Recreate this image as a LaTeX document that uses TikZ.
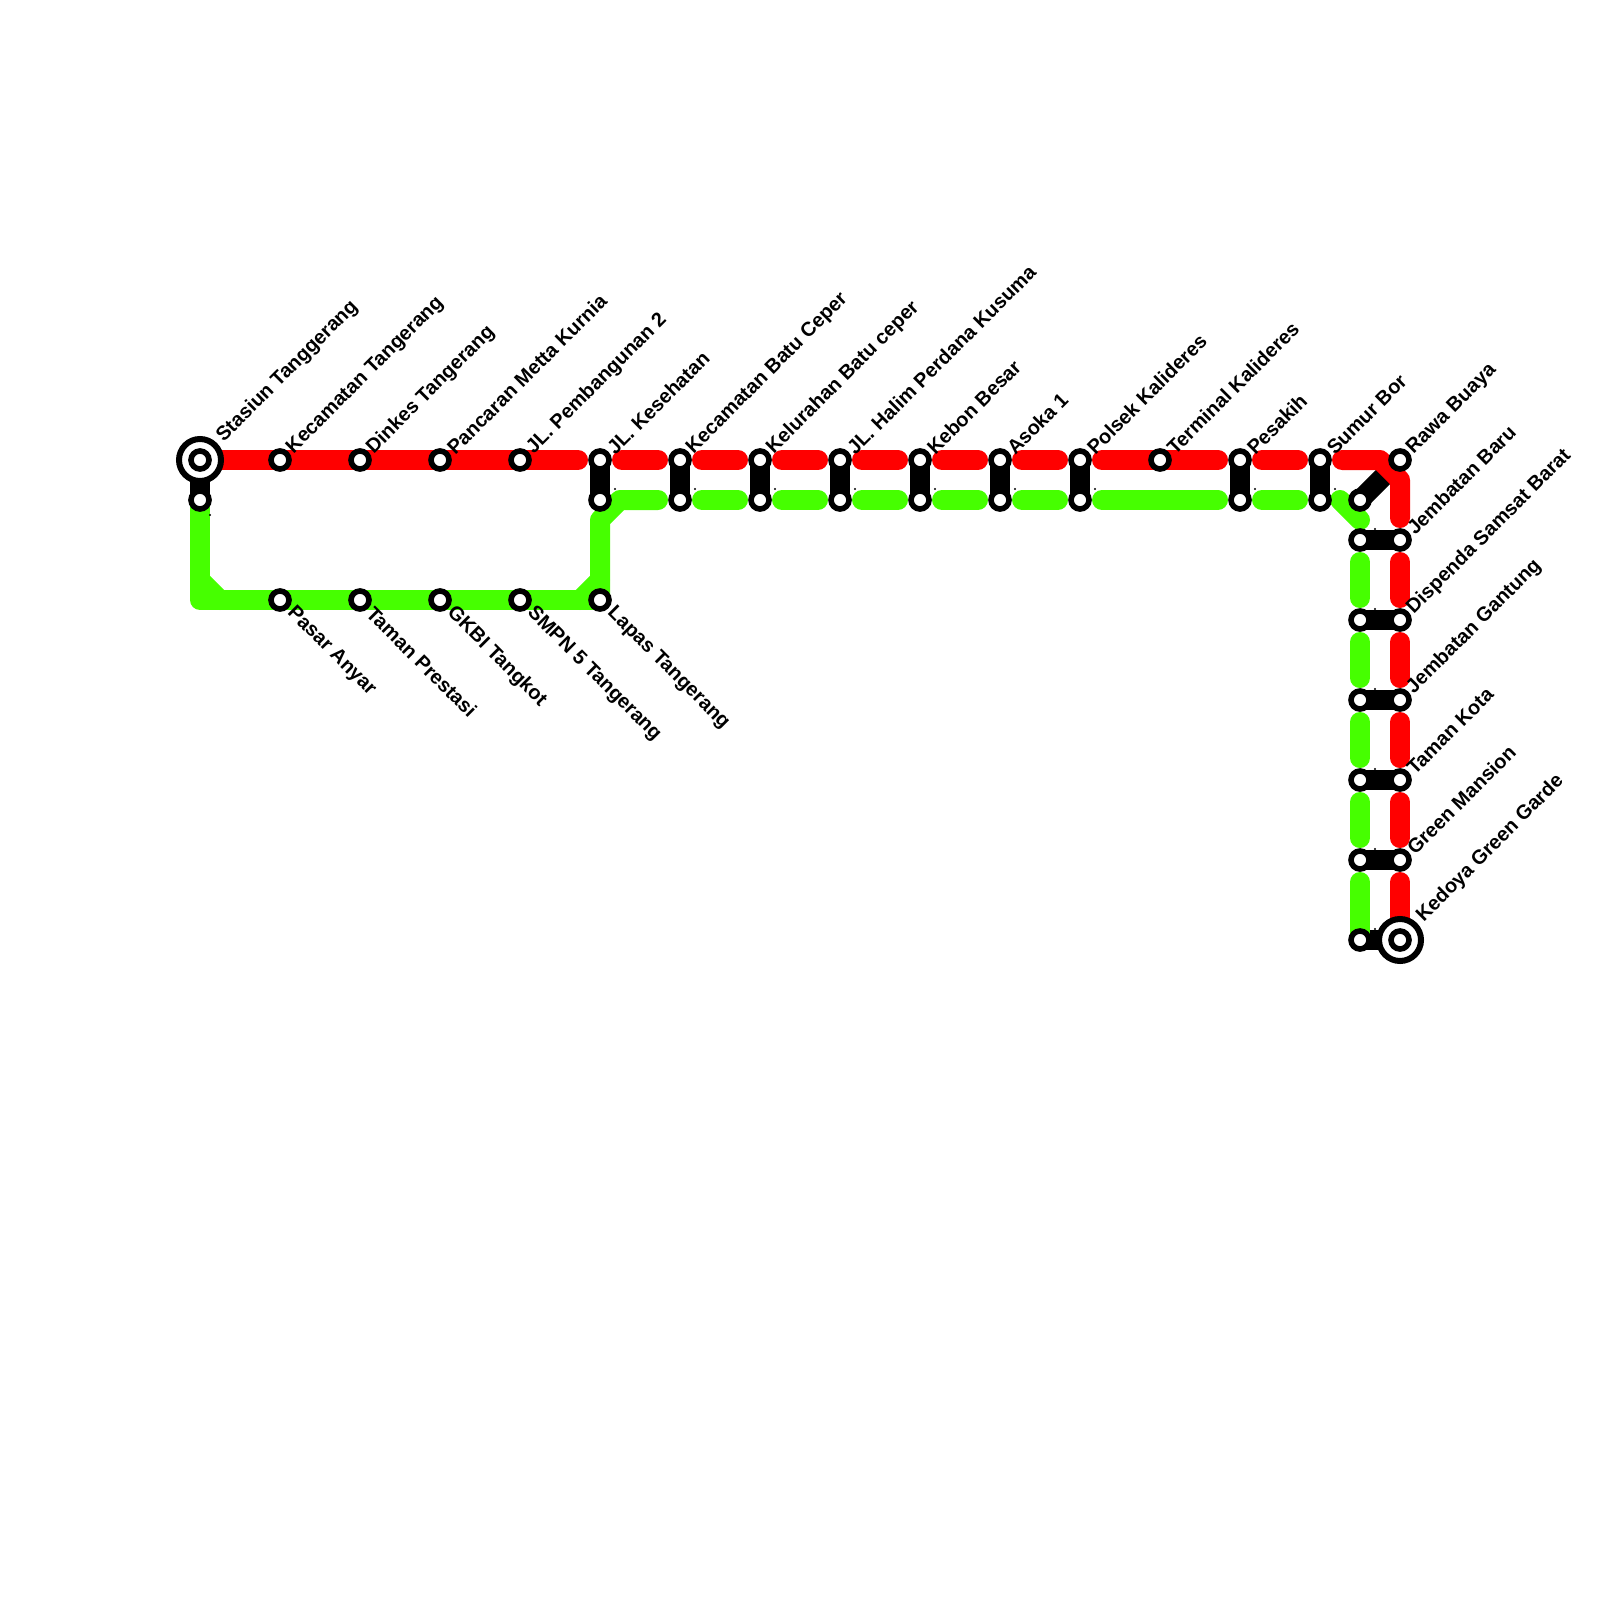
\documentclass[tikz,border=0pt]{standalone}
\usepackage{fontspec}
\setmainfont{Liberation Sans}
\usetikzlibrary{backgrounds}
\definecolor{LineRed}{RGB}{255,0,0}
\definecolor{LineGreen}{RGB}{70,255,0}
\tikzset{
  station/.style={circle,draw=black,fill=white,line width=1.4mm,minimum size=4.5mm,inner sep=0pt,outer sep=0pt},
  terminus/.style={circle,draw=black,fill=white,line width=1.5mm,minimum size=10.5mm,inner sep=0pt,outer sep=0pt},
  redline/.style={draw=LineRed,line width=5mm,line cap=round,line join=round},
  greenline/.style={draw=LineGreen,line width=5mm,line cap=round,line join=round},
  link/.style={draw=black,line width=5mm},
  gapstart/.style={shorten <=5.5mm},
  gapend/.style={shorten >=5.5mm},
  gapboth/.style={gapstart,gapend},
  uplabel/.style={rotate=45,anchor=west,inner sep=0pt,font=\fontsize{14.2}{16}\selectfont\bfseries},
  downlabel/.style={rotate=-45,anchor=west,inner sep=0pt,font=\fontsize{14.2}{16}\selectfont\bfseries},
  speck/.style={circle,fill=black,inner sep=0pt,minimum size=0.6mm}
}

\begin{document}
\begin{tikzpicture}[x=0.25mm,y=-0.25mm]
\useasboundingbox (0,0) rectangle (1600,1600);

% upper stops
\node[terminus] (startring) at (200,460) {};
\node[station] (r1) at (200,460) {};
\node[station] (r2) at (280,460) {};
\node[station] (r3) at (360,460) {};
\node[station] (r4) at (440,460) {};
\node[station] (r5) at (520,460) {};
\node[station] (r6) at (600,460) {};
\node[station] (r7) at (680,460) {};
\node[station] (r8) at (760,460) {};
\node[station] (r9) at (840,460) {};
\node[station] (r10) at (920,460) {};
\node[station] (r11) at (1000,460) {};
\node[station] (r12) at (1080,460) {};
\node[station] (r13) at (1160,460) {};
\node[station] (r14) at (1240,460) {};
\node[station] (r15) at (1320,460) {};
\node[station] (r16) at (1400,460) {};

% lower stops
\node[station] (g1) at (200,500) {};
\node[station] (g6) at (600,500) {};
\node[station] (g7) at (680,500) {};
\node[station] (g8) at (760,500) {};
\node[station] (g9) at (840,500) {};
\node[station] (g10) at (920,500) {};
\node[station] (g11) at (1000,500) {};
\node[station] (g12) at (1080,500) {};
\node[station] (g14) at (1240,500) {};
\node[station] (g15) at (1320,500) {};
\node[station] (g16) at (1360,500) {};

% bottom row
\node[station] (b2) at (280,600) {};
\node[station] (b3) at (360,600) {};
\node[station] (b4) at (440,600) {};
\node[station] (b5) at (520,600) {};
\node[station] (b6) at (600,600) {};

% right column
\node[station] (gc1) at (1360,540) {};
\node[station] (gc2) at (1360,620) {};
\node[station] (gc3) at (1360,700) {};
\node[station] (gc4) at (1360,780) {};
\node[station] (gc5) at (1360,860) {};
\node[station] (gc6) at (1360,940) {};
\node[station] (rc1) at (1400,540) {};
\node[station] (rc2) at (1400,620) {};
\node[station] (rc3) at (1400,700) {};
\node[station] (rc4) at (1400,780) {};
\node[station] (rc5) at (1400,860) {};
\node[terminus] (endring) at (1400,940) {};
\node[station] (rc6) at (1400,940) {};

\begin{scope}[on background layer]
\draw[link] (r1.center) -- (g1.center);
\draw[link] (r6.center) -- (g6.center);
\draw[link] (r7.center) -- (g7.center);
\draw[link] (r8.center) -- (g8.center);
\draw[link] (r9.center) -- (g9.center);
\draw[link] (r10.center) -- (g10.center);
\draw[link] (r11.center) -- (g11.center);
\draw[link] (r12.center) -- (g12.center);
\draw[link] (r14.center) -- (g14.center);
\draw[link] (r15.center) -- (g15.center);
\draw[link] (g16.center) -- (r16.center);
\draw[link] (gc1.center) -- (rc1.center);
\draw[link] (gc2.center) -- (rc2.center);
\draw[link] (gc3.center) -- (rc3.center);
\draw[link] (gc4.center) -- (rc4.center);
\draw[link] (gc5.center) -- (rc5.center);
\draw[link] (gc6.center) -- (rc6.center);

\draw[redline,gapend] (r1.center) -- (r2.center) -- (r3.center) -- (r4.center) -- (r5.center) -- (r6.center);
\draw[redline,gapboth] (r6.center) -- (r7.center);
\draw[redline,gapboth] (r7.center) -- (r8.center);
\draw[redline,gapboth] (r8.center) -- (r9.center);
\draw[redline,gapboth] (r9.center) -- (r10.center);
\draw[redline,gapboth] (r10.center) -- (r11.center);
\draw[redline,gapboth] (r11.center) -- (r12.center);
\draw[redline,gapboth] (r12.center) -- (r14.center);
\draw[redline,gapboth] (r14.center) -- (r15.center);
\draw[redline,gapboth] (r15.center) -- (1380,460) -- (1400,480) -- (rc1.center);
\draw[redline,gapboth] (rc1.center) -- (rc2.center);
\draw[redline,gapboth] (rc2.center) -- (rc3.center);
\draw[redline,gapboth] (rc3.center) -- (rc4.center);
\draw[redline,gapboth] (rc4.center) -- (rc5.center);
\draw[redline,gapstart] (rc5.center) -- (rc6.center);

\draw[greenline] (g1.center) -- (200,600) -- (b6.center);
\draw[greenline] (200,580) -- (220,600);
\draw[greenline] (580,600) -- (600,580);
\draw[greenline,gapend] (b6.center) -- (600,520) -- (620,500) -- (g7.center);
\draw[greenline,gapboth] (g7.center) -- (g8.center);
\draw[greenline,gapboth] (g8.center) -- (g9.center);
\draw[greenline,gapboth] (g9.center) -- (g10.center);
\draw[greenline,gapboth] (g10.center) -- (g11.center);
\draw[greenline,gapboth] (g11.center) -- (g12.center);
\draw[greenline,gapboth] (g12.center) -- (g14.center);
\draw[greenline,gapboth] (g14.center) -- (g15.center);
\draw[greenline] (1340,500) -- (1360,520);
\draw[greenline,gapboth] (gc1.center) -- (gc2.center);
\draw[greenline,gapboth] (gc2.center) -- (gc3.center);
\draw[greenline,gapboth] (gc3.center) -- (gc4.center);
\draw[greenline,gapboth] (gc4.center) -- (gc5.center);
\draw[greenline,gapstart] (gc5.center) -- (gc6.center);
\end{scope}

% upper labels
\node[uplabel] (t1) at (220,439) {Stasiun Tanggerang};
\node[uplabel] (t2) at (290,451) {Kecamatan Tangerang};
\node[uplabel] (t3) at (370,451) {Dinkes Tangerang};
\node[uplabel] (t4) at (450,451) {Pancaran Metta Kurnia};
\node[uplabel] (t5) at (530,451) {JL. Pembangunan 2};
\node[uplabel] (t6) at (610,451) {JL. Kesehatan};
\node[uplabel] (t7) at (690,451) {Kecamatan Batu Ceper};
\node[uplabel] (t8) at (770,451) {Kelurahan Batu ceper};
\node[uplabel] (t9) at (850,451) {JL. Halim Perdana Kusuma};
\node[uplabel] (t10) at (930,451) {Kebon Besar};
\node[uplabel] (t11) at (1010,451) {Asoka 1};
\node[uplabel] (t12) at (1090,451) {Polsek Kalideres};
\node[uplabel] (t13) at (1170,451) {Terminal Kalideres};
\node[uplabel] (t14) at (1250,451) {Pesakih};
\node[uplabel] (t15) at (1330,451) {Sumur Bor};
\node[uplabel] (t16) at (1410,451) {Rawa Buaya};

% right labels
\node[uplabel] (t17) at (1410,531) {Jembatan Baru};
\node[uplabel] (t18) at (1410,611) {Dispenda Samsat Barat};
\node[uplabel] (t19) at (1410,691) {Jembatan Gantung};
\node[uplabel] (t20) at (1410,771) {Taman Kota};
\node[uplabel] (t21) at (1410,851) {Green Mansion};
\node[uplabel] (t22) at (1420,919) {Kedoya Green Garde};

% bottom labels
\node[downlabel] (d2) at (290,610) {Pasar Anyar};
\node[downlabel] (d3) at (370,610) {Taman Prestasi};
\node[downlabel] (d4) at (450,610) {GKBI Tangkot};
\node[downlabel] (d5) at (530,610) {SMPN 5 Tangerang};
\node[downlabel] (d6) at (610,610) {Lapas Tangerang};

% specks
\node[speck] (p1) at (210,515) {};
\node[speck] (p6) at (615,489) {};
\node[speck] (p7) at (695,489) {};
\node[speck] (p8) at (775,489) {};
\node[speck] (p9) at (855,489) {};
\node[speck] (p10) at (935,489) {};
\node[speck] (p11) at (1015,489) {};
\node[speck] (p12) at (1095,489) {};
\node[speck] (p14) at (1255,489) {};
\node[speck] (p15) at (1335,489) {};
\node[speck] (q1) at (1375,529) {};
\node[speck] (q2) at (1375,609) {};
\node[speck] (q3) at (1375,689) {};
\node[speck] (q4) at (1375,769) {};
\node[speck] (q5) at (1375,849) {};
\node[speck] (q6) at (1375,929) {};
\end{tikzpicture}
\end{document}
